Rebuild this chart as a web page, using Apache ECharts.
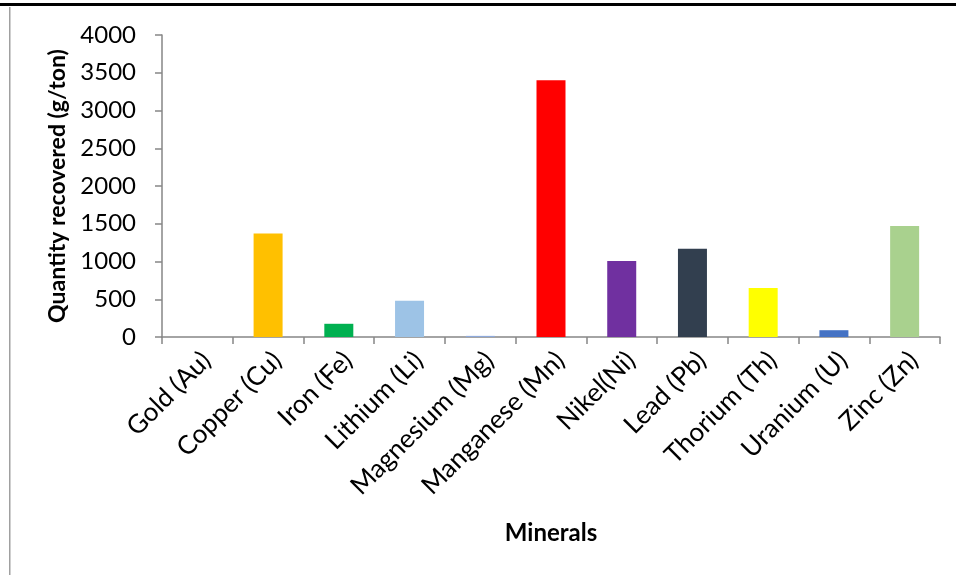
<!DOCTYPE html>
<html>
<head>
<meta charset="utf-8">
<script src="https://cdn.jsdelivr.net/npm/echarts@6/dist/echarts.min.js"></script>
<style>
  html, body { margin: 0; padding: 0; background: #fff; }
  #chart { width: 956px; height: 575px; }
</style>
</head>
<body>
<div id="chart"></div>
<script>
// Minerals and recovered quantities (g/ton)
const minerals = ['Gold (Au)', 'Copper (Cu)', 'Iron (Fe)', 'Lithium (Li)', 'Magnesium (Mg)',
  'Manganese (Mn)', 'Nikel(Ni)', 'Lead (Pb)', 'Thorium (Th)', 'Uranium (U)', 'Zinc (Zn)'];
const quantities = [0, 1370, 175, 480, 15, 3400, 1005, 1170, 650, 90, 1470];
const barColors = ['#A5A5A5', '#FFC000', '#00B050', '#9DC3E6', '#8EA9DB', '#FF0000',
  '#7030A0', '#323F4F', '#FFFF00', '#4472C4', '#A9D18E'];

const FONT = 'Lato, "Open Sans", sans-serif';
const chart = echarts.init(document.getElementById('chart'));

chart.setOption({
  animation: false,
  backgroundColor: '#fff',
  grid: { left: 162, right: 16, top: 35, bottom: 238, containLabel: false },
  graphic: [
    { type: 'rect', shape: { x: 0, y: 3, width: 956, height: 3 }, style: { fill: '#000' } },
    { type: 'rect', shape: { x: 9, y: 7, width: 1.5, height: 568 }, style: { fill: '#A0A0A0' } }
  ],
  xAxis: {
    type: 'category',
    data: minerals,
    name: 'Minerals',
    nameLocation: 'middle',
    nameGap: 184,
    nameTextStyle: { fontFamily: FONT, fontSize: 24, fontWeight: 'bold', color: '#000' },
    axisLine: { lineStyle: { color: '#868686', width: 1.5 } },
    axisTick: { show: true, alignWithLabel: false, length: 7, lineStyle: { color: '#868686', width: 1.5 } },
    axisLabel: {
      rotate: 45, margin: 10, interval: 0, verticalAlign: 'top',
      fontFamily: FONT, fontSize: 26, color: '#000'
    }
  },
  yAxis: {
    type: 'value',
    min: 0, max: 4000, interval: 500,
    name: 'Quantity recovered (g/ton)',
    nameLocation: 'middle',
    nameGap: 90,
    nameRotate: 90,
    nameTextStyle: { fontFamily: FONT, fontSize: 23, fontWeight: 'bold', color: '#000' },
    axisLine: { show: true, lineStyle: { color: '#868686', width: 1.5 } },
    axisTick: { show: true, length: 7, lineStyle: { color: '#868686', width: 1.5 } },
    splitLine: { show: false },
    axisLabel: { margin: 26, fontFamily: FONT, fontSize: 24, color: '#000', formatter: v => String(v) }
  },
  series: [{
    type: 'bar',
    data: quantities.map((v, i) => ({ value: v, itemStyle: { color: barColors[i] } })),
    barWidth: '41%'
  }]
});
</script>
</body>
</html>
